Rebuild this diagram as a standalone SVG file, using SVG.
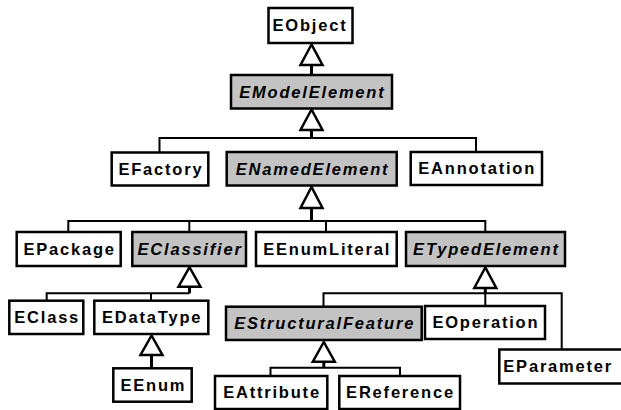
<svg xmlns="http://www.w3.org/2000/svg" width="621" height="410" viewBox="0 0 621 410">
<style>
.box{fill:#fff;stroke:#000;stroke-width:2.5}
.abs{fill:#c3c3c3;stroke:#000;stroke-width:2.5}
.t{font-family:"Liberation Sans",Arial,sans-serif;font-size:16.5px;font-weight:bold;letter-spacing:1.8px;text-anchor:middle;fill:#000}
.i{font-style:italic}
.ln{fill:none;stroke:#000;stroke-width:2}
.st{fill:none;stroke:#000;stroke-width:3}
.tri{fill:#fff;stroke:#000;stroke-width:2.5;stroke-linejoin:miter}
</style>
<rect width="621" height="410" fill="#fff"/>
<g id="connectors">
<path class="st" d="M311.5 65V75"/>
<polygon class="tri" points="311.5,44.5 300.5,65 322.5,65"/>
<path class="st" d="M311.5 130V138"/>
<path class="ln" d="M159.5 152.5V138H476V152"/>
<polygon class="tri" points="311.5,109.5 300.5,130 322.5,130"/>
<path class="st" d="M311.5 208V221"/>
<path class="ln" d="M68.3 232V221H485.3V232M189.3 221V232M326 221V232"/>
<polygon class="tri" points="311.5,187 300.5,208 322.5,208"/>
<path class="st" d="M189.5 286.7V293.3"/>
<path class="ln" d="M46.7 300.7V293.3H189.5M151 293.3V300.7"/>
<polygon class="tri" points="189.5,267.2 178.5,286.7 200.5,286.7"/>
<path class="st" d="M151.5 355V368.3"/>
<polygon class="tri" points="151.5,335.5 140.5,355 162.5,355"/>
<path class="st" d="M485.3 288V293.3"/>
<path class="ln" d="M323.5 306.7V293.3H561.7V349.5M485.3 293.3V306"/>
<polygon class="tri" points="485.3,267.5 474.3,288 496.3,288"/>
<path class="st" d="M323.8 361.7V367.7"/>
<path class="ln" d="M270.5 376V367.7H400V376"/>
<polygon class="tri" points="323.8,342 312.8,361.7 334.8,361.7"/>
</g>
<g id="EObject"><rect class="box" x="268.5" y="8" width="84" height="35"/><text class="t" x="310" y="31.3">EObject</text></g>
<g id="EModelElement"><rect class="abs" x="231" y="75" width="161" height="33.5"/><text class="t i" x="312.4" y="97.5">EModelElement</text></g>
<g id="EFactory"><rect class="box" x="111.7" y="152.5" width="96.6" height="33"/><text class="t" x="160.9" y="174.7">EFactory</text></g>
<g id="ENamedElement"><rect class="abs" x="226.7" y="152" width="170" height="33.5"/><text class="t i" x="312.6" y="174.5">ENamedElement</text></g>
<g id="EAnnotation"><rect class="box" x="410.7" y="152" width="131.3" height="33"/><text class="t" x="477.2" y="174.2">EAnnotation</text></g>
<g id="EPackage"><rect class="box" x="16.7" y="232" width="104" height="34"/><text class="t" x="69.6" y="254.7">EPackage</text></g>
<g id="EClassifier"><rect class="abs" x="132.3" y="232" width="113.7" height="34"/><text class="t i" x="190.1" y="254.7">EClassifier</text></g>
<g id="EEnumLiteral"><rect class="box" x="256" y="232" width="140.7" height="34"/><text class="t" x="327.2" y="254.7">EEnumLiteral</text></g>
<g id="ETypedElement"><rect class="abs" x="406" y="232" width="159" height="34"/><text class="t i" x="486.4" y="254.7">ETypedElement</text></g>
<g id="EClass"><rect class="box" x="9.3" y="300.7" width="74" height="33.3"/><text class="t" x="47.2" y="323">EClass</text></g>
<g id="EDataType"><rect class="box" x="94.3" y="300.7" width="114" height="33.3"/><text class="t" x="152.2" y="323">EDataType</text></g>
<g id="EEnum"><rect class="box" x="113.3" y="368.3" width="78.4" height="33.4"/><text class="t" x="153.4" y="390.7">EEnum</text></g>
<g id="EStructuralFeature"><rect class="abs" x="226" y="306.7" width="195.7" height="33.3"/><text class="t i" x="324.7" y="329">EStructuralFeature</text></g>
<g id="EOperation"><rect class="box" x="425" y="306" width="120" height="33"/><text class="t" x="485.9" y="328.2">EOperation</text></g>
<g id="EParameter"><rect class="box" x="499.3" y="349.5" width="125" height="34"/><text class="t" x="503.3" y="372.2" style="text-anchor:start">EParameter</text></g>
<g id="EAttribute"><rect class="box" x="215" y="376" width="112.3" height="33"/><text class="t" x="272" y="398.2">EAttribute</text></g>
<g id="EReference"><rect class="box" x="339.3" y="376" width="120.7" height="33"/><text class="t" x="400.5" y="398.2">EReference</text></g>
</svg>
